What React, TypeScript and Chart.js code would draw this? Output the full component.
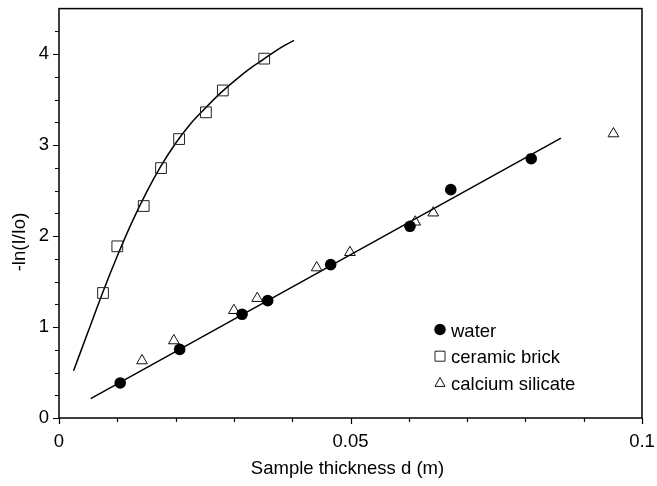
import React, { useEffect, useRef } from 'react';
import { Chart, registerables } from 'chart.js';

Chart.register(...registerables);

// ---- data ----
const X_TICKS = [0, 0.05, 0.1];
const X_TICK_LABELS = ['0', '0.05', '0.1'];
const X_MINOR_TICKS = [0.01, 0.02, 0.03, 0.04, 0.06, 0.07, 0.08, 0.09];
const Y_TICKS = [0, 1, 2, 3, 4];
const Y_TICK_LABELS = ['0', '1', '2', '3', '4'];
const Y_MINOR_TICKS = [0.25, 0.5, 0.75, 1.25, 1.5, 1.75, 2.25, 2.5, 2.75, 3.25, 3.5, 3.75, 4.25];

const WATER_X = [0.0105, 0.0207, 0.0314, 0.0358, 0.0466, 0.0602, 0.0672, 0.081];
const WATER_Y = [0.385, 0.754, 1.14, 1.29, 1.686, 2.107, 2.51, 2.85];

const BRICK_X = [0.00755, 0.01, 0.01453, 0.0175, 0.0206, 0.0252, 0.0281, 0.0352];
const BRICK_Y = [1.374, 1.887, 2.33, 2.747, 3.066, 3.36, 3.6, 3.95];

const SILICATE_X = [0.01424, 0.0197, 0.03, 0.034, 0.0442, 0.0499, 0.0611, 0.0642, 0.0951];
const SILICATE_Y = [0.63, 0.85, 1.183, 1.315, 1.652, 1.82, 2.155, 2.255, 3.125];

const WATER_FIT_X = [0.00544, 0.0861];
const WATER_FIT_Y = [0.213, 3.077];

const BRICK_FIT_X = [0.0025, 0.005, 0.0075, 0.01, 0.0125, 0.015, 0.0175, 0.02, 0.0225, 0.025, 0.0275, 0.03, 0.0325, 0.035, 0.0375, 0.0403];
const BRICK_FIT_Y = [0.52, 0.95, 1.38, 1.78, 2.15, 2.48, 2.77, 3.02, 3.23, 3.4, 3.56, 3.7, 3.83, 3.94, 4.05, 4.15];

const X_TITLE = 'Sample thickness d (m)';
const Y_TITLE = '-ln(I/Io)';

const FONT = 'Arial, "Liberation Sans", sans-serif';
const FONT_SIZE = 18.5;
const zip = (xs: number[], ys: number[]) => xs.map((x, i) => ({ x, y: ys[i] }));

const decorPlugin = {
  id: 'decor',
  afterDraw(chart: any) {
    const { ctx, chartArea: a, scales } = chart;
    const xs = scales.x;
    const ys = scales.y;
    ctx.save();
    ctx.strokeStyle = '#000';
    ctx.lineWidth = 1.5;
    ctx.strokeRect(a.left, a.top, a.right - a.left, a.bottom - a.top);

    ctx.lineWidth = 1.2;
    ctx.beginPath();
    Y_TICKS.forEach((v) => {
      const p = Math.round(ys.getPixelForValue(v)) + 0.5;
      ctx.moveTo(a.left - 6, p);
      ctx.lineTo(a.left, p);
    });
    Y_MINOR_TICKS.forEach((v) => {
      const p = Math.round(ys.getPixelForValue(v)) + 0.5;
      ctx.moveTo(a.left - 4, p);
      ctx.lineTo(a.left, p);
    });
    X_TICKS.forEach((v) => {
      const p = Math.round(xs.getPixelForValue(v)) + 0.5;
      ctx.moveTo(p, a.bottom);
      ctx.lineTo(p, a.bottom + 6);
    });
    X_MINOR_TICKS.forEach((v) => {
      const p = Math.round(xs.getPixelForValue(v)) + 0.5;
      ctx.moveTo(p, a.bottom);
      ctx.lineTo(p, a.bottom + 4);
    });
    ctx.stroke();

    // axis titles
    ctx.fillStyle = '#000';
    ctx.font = `${FONT_SIZE}px ${FONT}`;
    ctx.textAlign = 'center';
    ctx.textBaseline = 'alphabetic';
    ctx.fillText(X_TITLE, (a.left + a.right) / 2 - 3, 474);
    ctx.save();
    ctx.translate(19.5, 242);
    ctx.rotate(-Math.PI / 2);
    ctx.textBaseline = 'middle';
    ctx.fillText(Y_TITLE, 0, 0);
    ctx.restore();

    // legend
    const items = chart.data.datasets.filter((d: any) => d.inLegend);
    const lx = 440;
    const tx = 451;
    const baseY = 336.5;
    const step = 26.7;
    ctx.textAlign = 'left';
    ctx.textBaseline = 'alphabetic';
    items.forEach((d: any, i: number) => {
      const by = baseY + i * step;
      const cy = by - 7;
      ctx.lineWidth = 1;
      ctx.strokeStyle = d.borderColor;
      ctx.fillStyle = d.backgroundColor;
      ctx.beginPath();
      if (d.pointStyle === 'circle') {
        ctx.arc(lx, cy, 5.7, 0, Math.PI * 2);
        ctx.fill();
      } else if (d.pointStyle === 'rect') {
        ctx.rect(lx - 5, cy - 5, 10, 10);
        ctx.stroke();
      } else {
        ctx.moveTo(lx, cy - 5.5);
        ctx.lineTo(lx + 5, cy + 3.5);
        ctx.lineTo(lx - 5, cy + 3.5);
        ctx.closePath();
        ctx.stroke();
      }
      ctx.fillStyle = '#000';
      ctx.fillText(d.label, tx, by);
    });
    ctx.restore();
  },
};

export default function App() {
  const ref = useRef<HTMLCanvasElement>(null);
  useEffect(() => {
    document.body.style.margin = '0';
    const canvas = ref.current!;
    const chart = new Chart(canvas, {
      type: 'scatter',
      data: {
        datasets: [
          {
            label: 'water',
            inLegend: true,
            data: zip(WATER_X, WATER_Y),
            pointStyle: 'circle',
            pointRadius: 5.8,
            backgroundColor: '#000',
            borderColor: '#000',
            borderWidth: 0,
            order: 0,
          } as any,
          {
            label: 'ceramic brick',
            inLegend: true,
            data: zip(BRICK_X, BRICK_Y),
            pointStyle: 'rect',
            pointRadius: 7.6,
            backgroundColor: 'rgba(0,0,0,0)',
            borderColor: '#222',
            borderWidth: 1,
            order: 0,
          } as any,
          {
            label: 'calcium silicate',
            inLegend: true,
            data: zip(SILICATE_X, SILICATE_Y),
            pointStyle: 'triangle',
            pointRadius: 6.2,
            backgroundColor: 'rgba(0,0,0,0)',
            borderColor: '#111',
            borderWidth: 1,
            order: 0,
          } as any,
          {
            label: 'water fit',
            data: zip(WATER_FIT_X, WATER_FIT_Y),
            showLine: true,
            pointRadius: 0,
            borderColor: '#000',
            borderWidth: 1.5,
            order: 1,
          } as any,
          {
            label: 'brick fit',
            data: zip(BRICK_FIT_X, BRICK_FIT_Y),
            showLine: true,
            pointRadius: 0,
            borderColor: '#000',
            borderWidth: 1.5,
            cubicInterpolationMode: 'monotone',
            order: 1,
          } as any,
        ],
      },
      options: {
        animation: false,
        responsive: false,
        devicePixelRatio: 1,
        layout: { padding: { top: 8, right: 15, left: 0, bottom: 0 } },
        plugins: { legend: { display: false }, tooltip: { enabled: false } },
        scales: {
          x: {
            type: 'linear',
            min: 0,
            max: 0.1,
            grid: { display: false, drawTicks: false },
            border: { display: false },
            afterBuildTicks: (s: any) => {
              s.ticks = X_TICKS.map((v) => ({ value: v }));
            },
            afterFit: (s: any) => {
              s.height = 68;
              s.paddingLeft = 0;
              s.paddingRight = 0;
            },
            ticks: {
              autoSkip: false,
              maxRotation: 0,
              padding: 13,
              color: '#000',
              font: { size: FONT_SIZE, family: FONT },
              callback: (v: any) => {
                const i = X_TICKS.findIndex((t) => Math.abs(t - Number(v)) < 1e-9);
                return i >= 0 ? X_TICK_LABELS[i] : '';
              },
            },
          },
          y: {
            type: 'linear',
            min: 0,
            max: 4.5,
            grid: { display: false, drawTicks: false },
            border: { display: false },
            afterBuildTicks: (s: any) => {
              s.ticks = Y_TICKS.map((v) => ({ value: v }));
            },
            afterFit: (s: any) => {
              s.width = 59;
              s.paddingTop = 0;
              s.paddingBottom = 0;
            },
            ticks: {
              autoSkip: false,
              padding: 10,
              color: '#000',
              font: { size: FONT_SIZE, family: FONT },
              callback: (v: any) => {
                const i = Y_TICKS.findIndex((t) => Math.abs(t - Number(v)) < 1e-9);
                return i >= 0 ? Y_TICK_LABELS[i] : '';
              },
            },
          },
        },
      },
      plugins: [decorPlugin],
    });
    return () => chart.destroy();
  }, []);
  return (
    <div style={{ width: 657, height: 486 }}>
      <canvas ref={ref} width={657} height={486} style={{ display: 'block' }} />
    </div>
  );
}
